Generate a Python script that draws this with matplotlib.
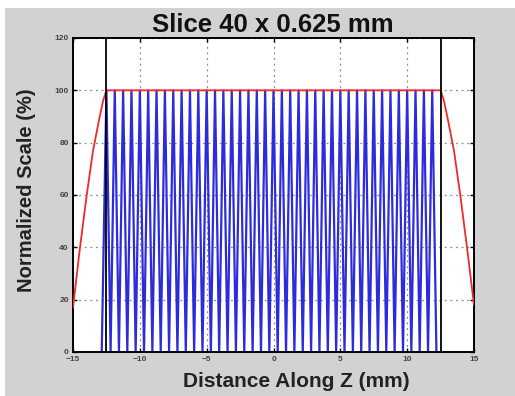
import numpy as np
import matplotlib
matplotlib.use("Agg")
import matplotlib.pyplot as plt
from matplotlib.patches import Rectangle

# Slice configuration (40 slices of 0.625 mm)
n_slices = 40
slice_width = 0.625
peak_value = 100.0
valley_value = 0.0

# Envelope (normalized detector coverage) in mm / percent
red_x = [-15.0, -14.5, -14.0, -13.5, -13.0, -12.75, -12.5,
         12.5, 12.75, 13.0, 13.5, 14.0, 14.5, 15.0]
red_y = [17.0, 39.0, 59.0, 77.0, 90.0, 96.0, 100.0,
         100.0, 96.0, 90.0, 77.0, 59.0, 39.0, 18.0]

# Collimation edges
edge_x = [-12.5, 12.5]

x_ticks = [-15, -10, -5, 0, 5, 10, 15]
y_ticks = [0, 20, 40, 60, 80, 100, 120]

# Zig-zag slice profiles: a peak at each slice position, zero in between
start = -12.5
peaks = [start + k * slice_width for k in range(n_slices)]
blue_x = [start - 0.35]
blue_y = [valley_value]
for p in peaks:
    blue_x += [p, p + slice_width / 2]
    blue_y += [peak_value, valley_value]

W, H = 515, 396
fig = plt.figure(figsize=(W / 100, H / 100), dpi=100, facecolor="white")
plt.rcParams["font.family"] = ["Liberation Sans", "DejaVu Sans"]

# grey panel behind the plot
fig.patches.append(Rectangle((5 / W, 0), 1 - 5 / W, 1 - 8 / H,
                             transform=fig.transFigure, facecolor="#d2d2d2",
                             edgecolor="none", zorder=-10))

ax = fig.add_axes([73 / W, 1 - 352 / H, 401 / W, 314 / H])
ax.set_zorder(1)
ax.set_facecolor("white")

ax.plot(blue_x, blue_y, color="#2c2cdc", lw=1.6, zorder=2)
ax.plot(red_x, red_y, color="#ee2a2a", lw=1.3, zorder=3)
for ex in edge_x:
    ax.axvline(ex, color="black", lw=1.3, zorder=4)

ax.set_xlim(-15, 15)
ax.set_ylim(0, 120)
ax.set_xticks(x_ticks)
ax.set_yticks(y_ticks)
ax.grid(True, color="#888888", linestyle=(0, (1.5, 3)), lw=0.9, zorder=1)
ax.set_axisbelow(True)
ax.tick_params(direction="in", length=3, width=1, labelsize=6,
               labelcolor="#444444", top=True, right=True, pad=3)
for lab in ax.get_xticklabels() + ax.get_yticklabels():
    lab.set_fontweight("bold")
for s in ax.spines.values():
    s.set_linewidth(1.4)
    s.set_color("black")

fig.text(273 / W, 1 - 32 / H, "Slice 40 x 0.625 mm", ha="center",
         va="baseline", fontsize=18.5, fontweight="bold", color="#111111")
fig.text(296 / W, 1 - 387 / H, "Distance Along Z (mm)", ha="center",
         va="baseline", fontsize=15, fontweight="bold", color="#222222")
fig.text(27 / W, 1 - 190 / H, "Normalized Scale (%)", ha="center",
         va="center", rotation=90, fontsize=14.5, fontweight="bold",
         color="#222222")

fig.savefig("out.png", dpi=100, facecolor=fig.get_facecolor())
